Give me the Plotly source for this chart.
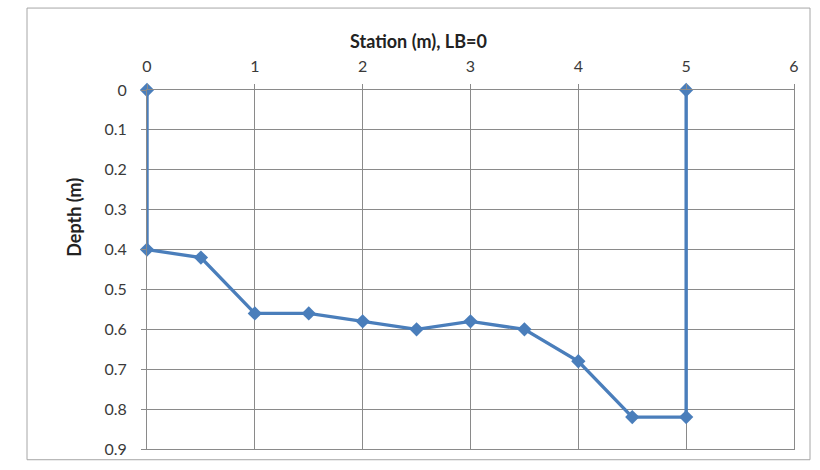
import plotly.graph_objects as go

# Cross-section survey: station along the transect vs. measured depth
station = [0, 0, 0.5, 1, 1.5, 2, 2.5, 3, 3.5, 4, 4.5, 5, 5]
depth = [0, 0.40, 0.42, 0.56, 0.56, 0.58, 0.60, 0.58, 0.60, 0.68, 0.82, 0.82, 0]

x_ticks = [0, 1, 2, 3, 4, 5, 6]
y_ticks = [0, 0.1, 0.2, 0.3, 0.4, 0.5, 0.6, 0.7, 0.8, 0.9]

x_title = "Station (m), LB=0"
y_title = "Depth (m)"

W, H = 820, 470
L, R, T, B = 147, 26, 90, 12
pw, ph = W - L - R, H - T - B


def px_x(p):
    return (p - L) / pw


def px_y(p):
    return (H - B - p) / ph


FONT = "Lato"
GRID = "#8a8a8a"
BLUE = "#4a7ebb"

fig = go.Figure()
fig.add_trace(go.Scatter(
    x=station, y=depth, mode="lines+markers",
    line=dict(color=BLUE, width=3.4),
    marker=dict(symbol="diamond", size=11, color=BLUE),
    cliponaxis=False,
    showlegend=False, hoverinfo="skip",
))

fig.update_layout(
    width=W, height=H,
    margin=dict(l=L, r=R, t=T, b=B),
    paper_bgcolor="white", plot_bgcolor="white",
    font=dict(family=FONT, size=16, color="#3a3a3a"),
    xaxis=dict(
        side="top", range=[0, 6], tickvals=x_ticks,
        ticktext=[str(v) for v in x_ticks],
        showgrid=True, gridcolor=GRID, gridwidth=1,
        showline=True, linecolor=GRID, linewidth=1, mirror=True,
        ticks="outside", ticklen=5, tickcolor=GRID,
        ticklabelstandoff=6,
        zeroline=False, fixedrange=True,
    ),
    yaxis=dict(
        range=[0.9, 0], tickvals=y_ticks,
        ticktext=["0"] + [f"{v:.1f}" for v in y_ticks[1:]],
        showgrid=True, gridcolor=GRID, gridwidth=1,
        showline=True, linecolor=GRID, linewidth=1, mirror=True,
        ticks="outside", ticklen=5, tickcolor=GRID,
        ticklabelstandoff=11,
        zeroline=False, fixedrange=True,
    ),
    shapes=[dict(
        type="rect", xref="paper", yref="paper",
        x0=px_x(27), x1=px_x(810), y0=px_y(469), y1=px_y(6),
        line=dict(color="#a6a6a6", width=1), fillcolor="rgba(0,0,0,0)",
        layer="below",
    )],
    annotations=[
        dict(text=f"<b>{x_title}</b>", xref="paper", yref="paper",
             x=px_x(418), y=px_y(40), showarrow=False,
             font=dict(family=FONT, size=18, color="#222"),
             xanchor="center", yanchor="middle"),
        dict(text=f"<b>{y_title}</b>", xref="paper", yref="paper",
             x=px_x(74), y=px_y(221), showarrow=False, textangle=-90,
             font=dict(family=FONT, size=18, color="#222"),
             xanchor="center", yanchor="middle"),
    ],
)

fig.write_html("out.html")
